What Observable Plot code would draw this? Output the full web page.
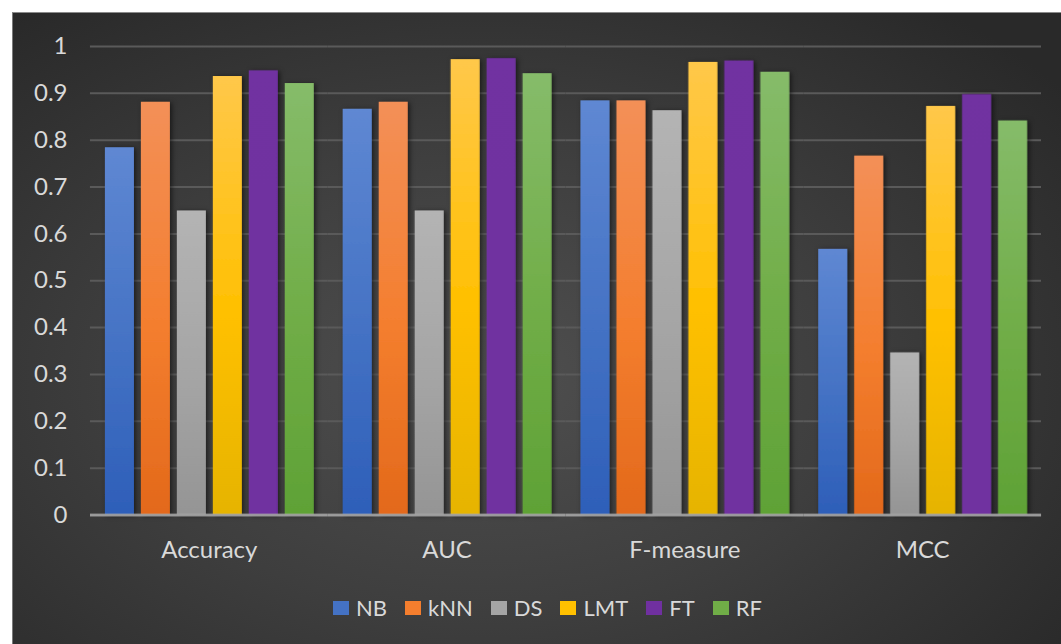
<!DOCTYPE html>
<html>
<head>
<meta charset="utf-8">
<script src="https://cdn.jsdelivr.net/npm/d3@7"></script>
<script src="https://cdn.jsdelivr.net/npm/@observablehq/plot@0.6"></script>
<style>
  html, body { margin: 0; padding: 0; background: #ffffff; }
  #frame {
    position: absolute; left: 12px; top: 12px; width: 1049px; height: 632px;
    background: radial-gradient(ellipse 70% 75% at 45% 58%, #4f4f4f 0%, #3e3e3e 50%, #292929 100%);
    border-top: 1px solid #8a8a8a; border-left: 1px solid #7a7a7a; box-sizing: border-box;
    overflow: hidden;
  }
  #chart { position: absolute; left: -1px; top: -1px; }
  #legend {
    position: absolute; left: 320px; top: 584px; display: flex; align-items: center;
    font-family: Lato, "Open Sans", sans-serif; font-size: 22px; line-height: 22px; color: #d9d9d9;
  }
  #legend .item { display: flex; align-items: center; margin-right: 18px; }
  #legend .sw { width: 16px; height: 14px; margin-right: 7px; }
  #chart svg g[aria-label="fx-axis tick label"] text { font-size: 24px; }
</style>
</head>
<body>
<div id="frame"><div id="chart"></div><div id="legend"></div></div>
<script>
const categories = ["Accuracy", "AUC", "F-measure", "MCC"];
const series = ["NB", "kNN", "DS", "LMT", "FT", "RF"];
const NB  = [0.784, 0.866, 0.884, 0.567];
const kNN = [0.881, 0.881, 0.884, 0.766];
const DS  = [0.649, 0.649, 0.863, 0.346];
const LMT = [0.936, 0.972, 0.966, 0.872];
const FT  = [0.948, 0.974, 0.969, 0.897];
const RF  = [0.921, 0.942, 0.945, 0.841];
const yTicks = [0, 0.1, 0.2, 0.3, 0.4, 0.5, 0.6, 0.7, 0.8, 0.9, 1];

// gradient stops per series: top, middle, bottom
const gradients = {
  NB:  ["#5f88d3", "#4472c4", "#2e5fb9"],
  kNN: ["#f39058", "#f47e2e", "#e3691b"],
  DS:  ["#b4b4b4", "#a5a5a5", "#959595"],
  LMT: ["#ffc84a", "#ffc000", "#e6b400"],
  FT:  ["#7131a1", "#7030a0", "#7030a0"],
  RF:  ["#86bc6a", "#70ad47", "#5fa236"]
};
const legendColors = {NB: "#4472c4", kNN: "#f47e2e", DS: "#a5a5a5", LMT: "#ffc000", FT: "#7030a0", RF: "#70ad47"};

const valuesBySeries = {NB, kNN, DS, LMT, FT, RF};
const data = [];
categories.forEach((c, i) => series.forEach(s => data.push({category: c, series: s, value: valuesBySeries[s][i]})));

const plot = Plot.plot({
  width: 1050,
  height: 560,
  marginTop: 34,
  marginBottom: 57,
  marginLeft: 78,
  marginRight: 20,
  style: {background: "transparent", fontFamily: "Lato, 'Open Sans', sans-serif", fontSize: "24px", color: "#d9d9d9"},
  fx: {domain: categories, padding: 0, label: null, axis: "bottom", tickSize: 0, tickPadding: 26},
  x: {domain: series, axis: null, paddingInner: 0.2, paddingOuter: 0.4},
  y: {domain: [0, 1], ticks: yTicks, tickFormat: d3.format("~g"), tickSize: 0, tickPadding: 23, label: null},
  color: {type: "identity"},
  marks: [
    Plot.ruleY(yTicks.slice(1), {stroke: "#5a5a5a", strokeWidth: 2}),
    Plot.barY(data, {fx: "category", x: "series", y: "value", fill: d => `url(#grad-${d.series})`}),
    Plot.ruleY([0], {stroke: "#a8a8a8", strokeWidth: 2.5})
  ]
});

// defs: gradients + shadow
const svgNS = "http://www.w3.org/2000/svg";
const defs = document.createElementNS(svgNS, "defs");
for (const s of series) {
  const g = document.createElementNS(svgNS, "linearGradient");
  g.setAttribute("id", `grad-${s}`);
  g.setAttribute("x1", "0"); g.setAttribute("y1", "0"); g.setAttribute("x2", "0"); g.setAttribute("y2", "1");
  gradients[s].forEach((col, k) => {
    const st = document.createElementNS(svgNS, "stop");
    st.setAttribute("offset", ["0%", "55%", "100%"][k]);
    st.setAttribute("stop-color", col);
    g.appendChild(st);
  });
  defs.appendChild(g);
}
const f = document.createElementNS(svgNS, "filter");
f.setAttribute("id", "shadow");
f.setAttribute("x", "-20%"); f.setAttribute("y", "-5%"); f.setAttribute("width", "150%"); f.setAttribute("height", "110%");
const ds = document.createElementNS(svgNS, "feDropShadow");
ds.setAttribute("dx", "2"); ds.setAttribute("dy", "1"); ds.setAttribute("stdDeviation", "2.5");
ds.setAttribute("flood-color", "#000"); ds.setAttribute("flood-opacity", "0.55");
f.appendChild(ds);
defs.appendChild(f);
plot.insertBefore(defs, plot.firstChild);
plot.querySelectorAll('g[aria-label="bar"]').forEach(g => g.setAttribute("filter", "url(#shadow)"));

document.getElementById("chart").appendChild(plot);

const legend = document.getElementById("legend");
for (const s of series) {
  const item = document.createElement("div");
  item.className = "item";
  const sw = document.createElement("div");
  sw.className = "sw";
  sw.style.background = legendColors[s];
  const t = document.createElement("span");
  t.textContent = s;
  item.appendChild(sw); item.appendChild(t);
  legend.appendChild(item);
}
</script>
</body>
</html>
